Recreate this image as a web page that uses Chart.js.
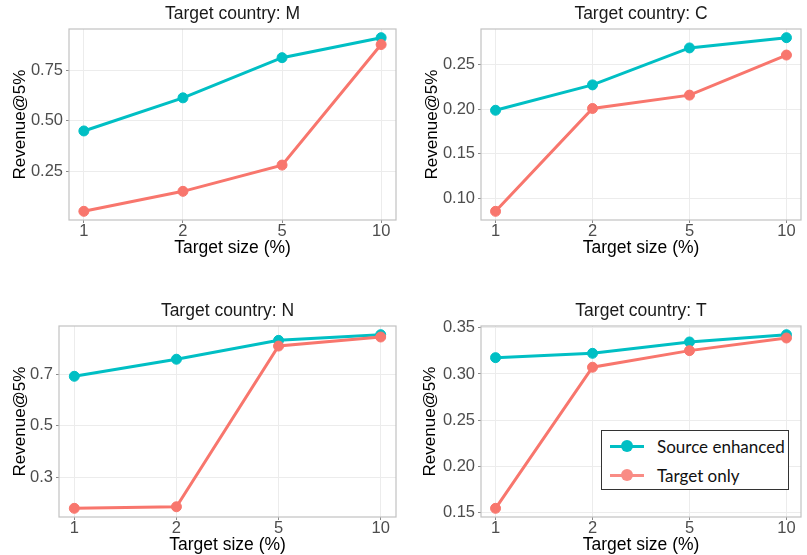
<!DOCTYPE html>
<html>
<head>
<meta charset="utf-8">
<script src="https://cdn.jsdelivr.net/npm/chart.js@4"></script>
<style>
  body { margin: 0; background: #fff; width: 807px; height: 555px; overflow: hidden; position: relative; }
  canvas { position: absolute; }
  #legend { position: absolute; left: 601px; top: 430px; width: 186px; height: 58px; border: 1px solid #333; background: #fff;
            font-family: Lato, "Liberation Sans", sans-serif; font-size: 17px; color: #111; }
  .item { position: absolute; left: 0; height: 20px; }
  .line { position: absolute; left: 8px; top: 8px; width: 34px; height: 3px; }
  .dot { position: absolute; left: 19px; top: 3px; width: 12px; height: 12px; border-radius: 50%; }
  .lbl { position: absolute; left: 55px; top: -1px; white-space: nowrap; }
</style>
</head>
<body>
<canvas id="chartM" width="405" height="260" style="left:0;top:0"></canvas>
<canvas id="chartC" width="402" height="260" style="left:405px;top:0"></canvas>
<canvas id="chartN" width="405" height="260" style="left:0;top:297px"></canvas>
<canvas id="chartT" width="402" height="260" style="left:405px;top:297px"></canvas>
<div id="legend"></div>
<script>
const sizes = ['1', '2', '5', '10'];
const seriesNames = ['Source enhanced', 'Target only'];
const seriesColors = ['#00BFC4', '#F8766D'];

const sourceM = [0.450, 0.614, 0.813, 0.912];
const targetM = [0.052, 0.151, 0.281, 0.878];
const sourceC = [0.199, 0.2275, 0.269, 0.2805];
const targetC = [0.0855, 0.201, 0.216, 0.261];
const sourceN = [0.692, 0.758, 0.831, 0.853];
const targetN = [0.181, 0.187, 0.809, 0.844];
const sourceT = [0.3177, 0.3224, 0.3347, 0.3426];
const targetT = [0.1543, 0.3073, 0.3253, 0.339];

const yTicksM = [0.25, 0.50, 0.75];
const yTicksC = [0.10, 0.15, 0.20, 0.25];
const yTicksN = [0.3, 0.5, 0.7];
const yTicksT = [0.15, 0.20, 0.25, 0.30, 0.35];

const FONT = '"Liberation Sans", Arial, sans-serif';

const panelBox = {
  id: 'panelBox',
  beforeDatasetsDraw(chart) {
    const { ctx, chartArea: a } = chart;
    ctx.save();
    ctx.strokeStyle = '#c2c2c2';
    ctx.lineWidth = 1.2;
    ctx.strokeRect(a.left, a.top, a.right - a.left, a.bottom - a.top);
    ctx.restore();
  }
};

function makePanel(id, country, source, target, yTicks, decimals, yWidth, rightPad, yTitlePad) {
  const all = source.concat(target);
  const lo = Math.min(...all), hi = Math.max(...all);
  const pad = (hi - lo) * 0.05;
  const toPts = arr => arr.map((v, i) => ({ x: i, y: v }));
  const mkSet = (k, arr, order) => ({
    label: seriesNames[k],
    data: toPts(arr),
    borderColor: seriesColors[k],
    backgroundColor: seriesColors[k],
    pointBackgroundColor: seriesColors[k],
    pointBorderColor: seriesColors[k],
    borderWidth: 3,
    pointRadius: 5,
    pointBorderWidth: 1,
    order: order
  });
  new Chart(document.getElementById(id), {
    type: 'line',
    data: { datasets: [mkSet(0, source, 2), mkSet(1, target, 1)] },
    plugins: [panelBox],
    options: {
      responsive: false,
      animation: false,
      layout: { padding: { left: 0, right: rightPad, top: 0, bottom: 0 } },
      plugins: {
        legend: { display: false },
        tooltip: { enabled: false },
        title: {
          display: true, text: 'Target country: ' + country, fullSize: false,
          color: '#1a1a1a', font: { family: FONT, size: 17.5, weight: 'normal' },
          padding: { top: 4, bottom: 4 }
        }
      },
      scales: {
        x: {
          type: 'linear', min: -0.15, max: 3.15,
          afterBuildTicks: s => { s.ticks = sizes.map((_, i) => ({ value: i })); },
          afterFit: s => { s.height = 40; },
          ticks: { callback: v => sizes[v], color: '#4d4d4d', padding: 0, font: { family: FONT, size: 16.5, lineHeight: 1 } },
          grid: { color: '#ececec', tickColor: '#8a8a8a', tickLength: 3 },
          border: { display: false },
          title: { display: true, text: 'Target size (%)', color: '#000', font: { family: FONT, size: 17.5 }, padding: { top: 0, bottom: 1 } }
        },
        y: {
          min: lo - pad, max: hi + pad,
          afterBuildTicks: s => { s.ticks = yTicks.map(v => ({ value: v })); },
          afterFit: s => { s.width = yWidth; },
          ticks: { callback: v => v.toFixed(decimals), color: '#4d4d4d', padding: 3, font: { family: FONT, size: 16.5 } },
          grid: { color: '#ececec', tickColor: '#8a8a8a', tickLength: 3 },
          border: { display: false },
          title: { display: true, text: 'Revenue@5%', color: '#000', font: { family: FONT, size: 17 }, padding: { top: yTitlePad, bottom: 0 } }
        }
      }
    }
  });
}

makePanel('chartM', 'M', sourceM, targetM, yTicksM, 2, 69, 9, 10);
makePanel('chartC', 'C', sourceC, targetC, yTicksC, 2, 76, 2, 17);
makePanel('chartN', 'N', sourceN, targetN, yTicksN, 1, 59, 9, 10);
makePanel('chartT', 'T', sourceT, targetT, yTicksT, 2, 76, 2, 15);

// legend for the last panel
const legend = document.getElementById('legend');
const legendColors = [seriesColors[0], '#F98C85'];
seriesNames.forEach((name, k) => {
  const item = document.createElement('div');
  item.className = 'item';
  item.style.top = (6 + k * 29) + 'px';
  item.innerHTML = '<div class="line" style="background:' + legendColors[k] + '"></div>' +
    '<div class="dot" style="background:' + legendColors[k] + '"></div>' +
    '<span class="lbl">' + name + '</span>';
  legend.appendChild(item);
});
</script>
</body>
</html>
